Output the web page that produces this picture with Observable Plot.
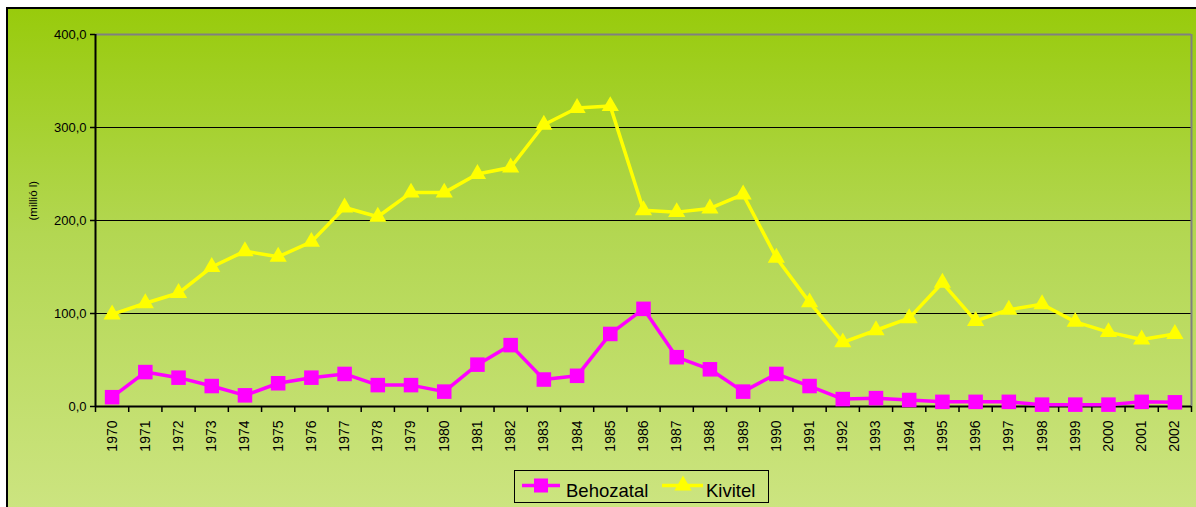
<!DOCTYPE html>
<html><head><meta charset="utf-8">
<script src="https://cdn.jsdelivr.net/npm/d3@7"></script>
<script src="https://cdn.jsdelivr.net/npm/@observablehq/plot@0.6"></script>
<style>
body{margin:0;background:#fff;font-family:"Liberation Sans",Arial,sans-serif;}
#wrap{position:relative;width:1196px;height:507px;overflow:hidden;background:#fff;}
#bg{position:absolute;left:6px;top:7px;width:1200px;height:500px;border:2px solid #000;background:linear-gradient(#98cb0c 0%, #b3d752 45%, #cce480 100%);}
#chart{position:absolute;left:0;top:0;}
#legend{position:absolute;left:514px;top:470px;width:255px;height:33px;border:1px solid #000;box-sizing:border-box;}
</style>
</head><body>
<div id="wrap"><div id="bg"></div><div id="chart"></div><div id="legend"></div></div>
<script>
const years = [1970,1971,1972,1973,1974,1975,1976,1977,1978,1979,1980,1981,1982,1983,1984,1985,1986,1987,1988,1989,1990,1991,1992,1993,1994,1995,1996,1997,1998,1999,2000,2001,2002];
const behozatal = [10,37,31,22,12,25,31,35,23,23,16,45,66,29,33,78,105,53,40,16,35,22,8,9,7,5,5,5,2,2,2,5,4.5];
const kivitel = [99,111,122,150,167,161,177,214,204,230,230,250,257,303,321,323,211,209,213,228,160,112,69,82,95,133,92,104,110,91,80,72,78];
const seriesNames = ["Behozatal","Kivitel"];
const yTicks = [0,100,200,300,400];
const yTitle = "(millió l)";

const imp = years.map((y,i)=>({year:y, value:behozatal[i]}));
const exp = years.map((y,i)=>({year:y, value:kivitel[i]}));
const bounds = years.map(y=>y-0.5).concat([years[years.length-1]+0.5]);

const chart = Plot.plot({
  width:1196, height:507,
  marginLeft:95, marginRight:5, marginTop:34, marginBottom:101,
  style:{background:"transparent", fontFamily:"'Liberation Sans', Arial, sans-serif", color:"#000", overflow:"visible"},
  x:{type:"linear", domain:[bounds[0], bounds[bounds.length-1]]},
  y:{domain:[0,400]},
  marks:[
    Plot.ruleY(yTicks.slice(1,-1), {stroke:"#000", strokeWidth:1.2}),
    Plot.ruleY([yTicks[yTicks.length-1]], {stroke:"#808080", strokeWidth:2}),
    Plot.ruleX([bounds[bounds.length-1]], {stroke:"#808080", strokeWidth:2}),
    Plot.axisY({ticks:yTicks, tickSize:5, tickPadding:4, strokeWidth:1.5, fontSize:13, label:null,
      tickFormat:d=>d.toFixed(1).replace(".",",")}),
    Plot.text([yTitle], {frameAnchor:"left", text:d=>d, rotate:-90, dx:-62, fontSize:11.5}),
    Plot.axisX({ticks:years, tickSize:0, tickPadding:14, tickRotate:-90, fontSize:14, label:null, tickFormat:d=>String(d)}),
    Plot.axisX({ticks:bounds, tickSize:6, strokeWidth:1.5, label:null, tickFormat:()=>""}),
    Plot.ruleX([bounds[0]], {stroke:"#000", strokeWidth:2}),
    Plot.ruleY([0], {stroke:"#000", strokeWidth:2}),
    Plot.line(imp, {x:"year", y:"value", stroke:"#ff00ff", strokeWidth:3.5}),
    Plot.dot(imp, {x:"year", y:"value", symbol:"square", fill:"#ff00ff", r:8.2, stroke:"none"}),
    Plot.line(exp, {x:"year", y:"value", stroke:"#ffff00", strokeWidth:3.5}),
    Plot.dot(exp, {x:"year", y:"value", symbol:"triangle", fill:"#ffff00", r:6.4, stroke:"none"})
  ]
});
document.getElementById("chart").appendChild(chart);

const lg = d3.select("#legend").append("svg").attr("width",255).attr("height",33)
  .style("position","absolute").style("left","-1px").style("top","-1px")
  .style("font-family","'Liberation Sans', Arial, sans-serif");
const g1 = lg.append("g");
g1.append("line").attr("x1",8).attr("x2",46).attr("y1",15.5).attr("y2",15.5).attr("stroke","#ff00ff").attr("stroke-width",3.5);
g1.append("rect").attr("x",20).attr("y",8.5).attr("width",14).attr("height",14).attr("fill","#ff00ff");
g1.append("text").attr("x",52).attr("y",26.5).attr("font-size",18.5).attr("fill","#000").text(seriesNames[0]);
const g2 = lg.append("g");
g2.append("line").attr("x1",148).attr("x2",189).attr("y1",15.5).attr("y2",15.5).attr("stroke","#ffff00").attr("stroke-width",3.5);
g2.append("path").attr("transform","translate(169,15.5)").attr("d",d3.symbol(d3.symbolTriangle, Math.PI*6.4*6.4)()).attr("fill","#ffff00");
g2.append("text").attr("x",192).attr("y",26.5).attr("font-size",18.5).attr("fill","#000").text(seriesNames[1]);
</script>
</body></html>
